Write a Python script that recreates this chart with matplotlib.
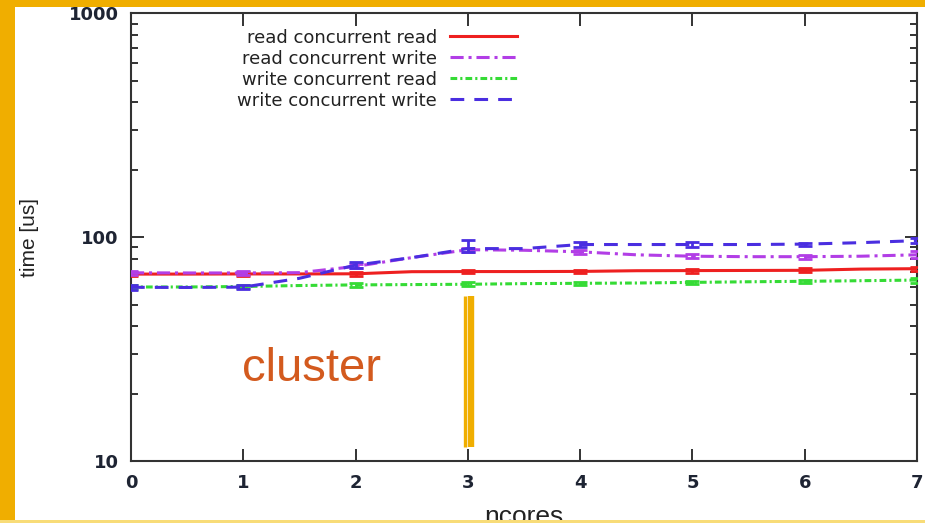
import matplotlib
matplotlib.use('Agg')
import matplotlib.pyplot as plt
from matplotlib.patches import Rectangle
import numpy as np

# --- dados ---
ncores = [0, 0.5, 1, 1.5, 2, 2.5, 3, 3.5, 4, 4.5, 5, 5.5, 6, 6.5, 7]
read_read = [68.4, 68.4, 68.5, 68.5, 68.6, 70.1, 70.2, 70.2, 70.3, 70.8, 70.9, 71.0, 71.1, 72.0, 72.3]
read_write = [69.3, 69.2, 69.2, 69.4, 74.0, 81.0, 87.9, 87.4, 86.0, 83.4, 82.2, 81.8, 81.8, 82.2, 83.4]
write_read = [59.9, 59.9, 60.2, 60.8, 61.2, 61.4, 61.6, 62.0, 62.2, 62.4, 62.8, 63.2, 63.5, 63.9, 64.3]
write_write = [59.7, 59.6, 59.8, 65.5, 75.0, 81.0, 88.9, 88.9, 92.7, 92.7, 92.7, 92.7, 93.1, 94.5, 96.5]

# barras de erro nos pontos inteiros (inferior, superior)
err_read_read = ([1.2, 1.2, 1.2, 1.2, 1.3, 1.4, 1.5, 1.5], [1.2, 1.2, 1.2, 1.2, 1.3, 1.4, 1.5, 1.5])
err_read_write = ([1.6, 1.4, 1.5, 2.0, 1.8, 1.8, 1.8, 3.0], [1.6, 1.4, 1.5, 2.0, 1.8, 1.8, 1.8, 3.0])
err_write_read = ([1.2, 1.0, 1.2, 1.2, 1.0, 1.2, 1.0, 1.6], [1.2, 1.0, 1.2, 1.2, 1.0, 1.2, 1.0, 1.6])
err_write_write = ([1.5, 1.2, 2.2, 3.0, 2.0, 2.0, 1.5, 2.5], [1.5, 1.2, 2.2, 8.5, 2.0, 2.0, 1.5, 2.5])

labels = ['read concurrent read', 'read concurrent write',
          'write concurrent read', 'write concurrent write']
colors = ['#ee2020', '#b23ee6', '#35db35', '#4a2ee0']
dashes = [None, (4.3, 1.6, 1.0, 1.6), (2.2, 1.0, 0.7, 1.0), (4.5, 3.3)]

sans = ['Liberation Sans', 'DejaVu Sans']

fig = plt.figure(figsize=(9.25, 5.23), dpi=100)
fig.patch.set_facecolor('white')
ax = fig.add_axes([0.1416, 0.1185, 0.8498, 0.8561])

series = [read_read, read_write, write_read, write_write]
errs = [err_read_read, err_read_write, err_write_read, err_write_write]
x_int = ncores[::2]

for ys, err, lab, col, dsh in zip(series, errs, labels, colors, dashes):
    line, = ax.plot(ncores, ys, color=col, lw=2.2, label=lab, zorder=3)
    if dsh is not None:
        line.set_dashes(dsh)
    ax.errorbar(x_int, ys[::2], yerr=err, fmt='none', ecolor=col,
                elinewidth=2.0, capsize=4.7, capthick=2.0, zorder=3)

ax.set_yscale('log')
ax.set_xlim(0, 7)
ax.set_ylim(10, 1000)
ax.set_xticks(range(8))
ax.set_yticks([10, 100, 1000], labels=['10', '100', '1000'])

ax.tick_params(which='both', direction='in', top=True, right=True,
               colors='#333333', width=1.4)
ax.tick_params(which='major', length=9, pad=9, labelsize=13, labelcolor='#1e2433')
ax.tick_params(which='minor', length=5)
for lbl in ax.get_xticklabels() + ax.get_yticklabels():
    lbl.set_fontweight('bold')
    lbl.set_family('DejaVu Sans')

for sp in ax.spines.values():
    sp.set_color('#333333')
    sp.set_linewidth(1.5)

ax.set_xlabel('ncores', family=sans, fontsize=19, labelpad=10, color='#222222')
ax.set_ylabel('time [us]', family=sans, fontsize=15, labelpad=21, color='#222222')

leg = ax.legend(loc='upper right', bbox_to_anchor=(0.491, 0.966), markerfirst=False,
                frameon=False, handlelength=3.7, handletextpad=0.72,
                labelspacing=0.17, borderpad=0, borderaxespad=0,
                prop={'family': 'DejaVu Sans', 'size': 13})
for t in leg.get_texts():
    t.set_color('#222222')

# anotação "cluster" e barras laranja
fig.text(312 / 925, 1 - 381 / 523, 'cluster', fontsize=34, color='#d35a1e',
         family=sans, ha='center', va='baseline')
ax.vlines([2.975], 11.5, 54.4, colors='#f0ae00', lw=2.4, zorder=4)
ax.vlines([3.031], 11.5, 54.4, colors='#f0ae00', lw=4.6, zorder=4)

# moldura laranja da captura de tela
fig.add_artist(Rectangle((0, 0), 15 / 925, 1, transform=fig.transFigure,
                         facecolor='#f0ae00', edgecolor='none', zorder=10))
fig.add_artist(Rectangle((0, 1 - 7 / 523), 1, 7 / 523, transform=fig.transFigure,
                         facecolor='#f0ae00', edgecolor='none', zorder=10))
fig.add_artist(Rectangle((0, 0), 1, 3 / 523, transform=fig.transFigure,
                         facecolor='#f8dc78', edgecolor='none', zorder=10))

fig.savefig('out.png', dpi=100, facecolor='white')
plt.close(fig)
